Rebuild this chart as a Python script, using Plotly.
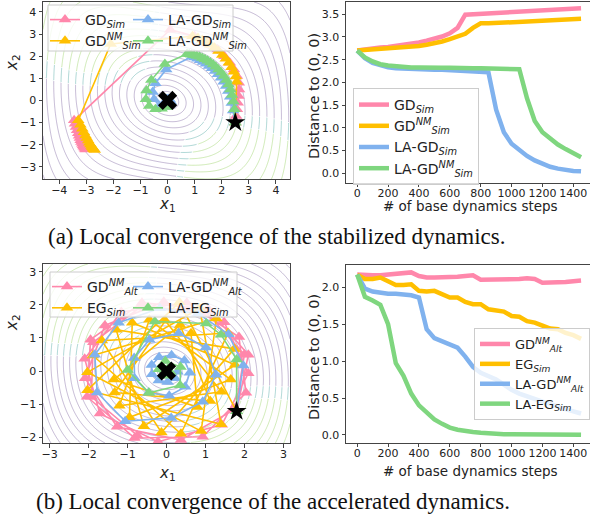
import numpy as np
import plotly.graph_objects as go

PINK = '#ff87ab'
ORANGE = '#ffbf00'
BLUE = '#80b2ee'
GREEN = '#7fd67f'

steps = [0, 50, 100, 150, 200, 250, 300, 350, 400, 450, 500, 550, 600, 650, 700,
         750, 800, 850, 900, 950, 1000, 1050, 1100, 1150, 1200, 1250, 1300, 1350, 1400, 1450]

# ---------------- (a) stabilized dynamics ----------------
names_a = ['GD<sub><i>Sim</i></sub>', 'GD<sup><i>NM</i></sup><sub><i>Sim</i></sub>',
           'LA-GD<sub><i>Sim</i></sub>', 'LA-GD<sup><i>NM</i></sup><sub><i>Sim</i></sub>']
start_a = [2.5, -1.0]

dist_a_gd = [2.70, 2.73, 2.75, 2.77, 2.78, 2.80, 2.82, 2.85, 2.88, 2.92, 2.96, 3.01, 3.08, 3.20, 3.49,
             3.50, 3.50, 3.51, 3.52, 3.53, 3.54, 3.55, 3.56, 3.57, 3.58, 3.59, 3.60, 3.61, 3.62, 3.63]
dist_a_gdnm = [2.70, 2.71, 2.72, 2.73, 2.74, 2.75, 2.76, 2.78, 2.80, 2.83, 2.86, 2.90, 2.95, 3.00, 3.07,
               3.20, 3.30, 3.30, 3.31, 3.31, 3.32, 3.32, 3.33, 3.34, 3.35, 3.36, 3.37, 3.38, 3.39, 3.40]
dist_a_lagd = [2.70, 2.53, 2.43, 2.37, 2.33, 2.31, 2.30, 2.29, 2.29, 2.28, 2.28, 2.28, 2.27, 2.27, 2.27,
               2.26, 2.25, 2.22, 1.40, 0.90, 0.65, 0.50, 0.38, 0.28, 0.20, 0.14, 0.10, 0.07, 0.05, 0.04]
dist_a_lagdnm = [2.70, 2.55, 2.46, 2.40, 2.37, 2.35, 2.34, 2.33, 2.33, 2.32, 2.32, 2.32, 2.32, 2.31, 2.31,
                 2.31, 2.31, 2.31, 2.30, 2.30, 2.30, 2.29, 1.65, 1.15, 0.90, 0.75, 0.63, 0.53, 0.44, 0.35]

traj_a_gd_x = [2.50, 2.53, 2.56, 2.59, 2.62, 2.64, 2.63, 2.56, 2.45, 2.30, 2.10, 1.85, 1.50, 1.00, 0.10,
               -3.45, -3.42, -3.38, -3.34, -3.30, -3.27, -3.24, -3.21, -3.18, -3.15, -3.12, -3.10, -3.07, -3.05, -3.02]
traj_a_gd_y = [-1.00, -0.70, -0.40, -0.10, 0.20, 0.50, 0.80, 1.10, 1.40, 1.70, 2.00, 2.30, 2.60, 2.90, 3.20,
               -0.90, -1.05, -1.20, -1.35, -1.48, -1.60, -1.70, -1.80, -1.88, -1.96, -2.03, -2.08, -2.13, -2.18, -2.22]
traj_a_gdnm_x = [2.50, 2.55, 2.52, 2.45, 2.36, 2.26, 2.15, 2.02, 1.88, 1.73, 1.58, 1.43, 1.28, 1.12, 0.92,
                 -2.10, -3.30, -3.22, -3.15, -3.09, -3.03, -2.98, -2.93, -2.89, -2.85, -2.81, -2.78, -2.75, -2.72, -2.69]
traj_a_gdnm_y = [-1.00, 0.85, 1.08, 1.30, 1.50, 1.70, 1.88, 2.06, 2.23, 2.38, 2.52, 2.63, 2.73, 2.82, 2.90,
                 2.55, -0.90, -1.10, -1.28, -1.44, -1.58, -1.70, -1.81, -1.91, -1.99, -2.06, -2.12, -2.17, -2.21, -2.24]
traj_a_lagd_x = [2.50, 2.42, 2.37, 2.31, 2.24, 2.16, 2.07, 1.97, 1.86, 1.75, 1.64, 1.53, 1.42, 1.31, 1.20,
                 1.10, 1.00, 0.90, -0.05, -0.45, -0.55, -0.50, -0.30, -0.10, 0.08, 0.12, 0.08, 0.02, -0.03, -0.03]
traj_a_lagd_y = [-1.00, -0.45, -0.12, 0.17, 0.43, 0.65, 0.85, 1.03, 1.19, 1.33, 1.45, 1.56, 1.66, 1.74, 1.82,
                 1.88, 1.94, 1.98, 1.40, 0.78, 0.38, 0.05, -0.25, -0.26, -0.18, -0.06, 0.04, 0.07, 0.05, 0.02]
traj_a_lagdnm_x = [2.50, 2.47, 2.43, 2.38, 2.32, 2.25, 2.17, 2.08, 1.98, 1.88, 1.78, 1.68, 1.58, 1.48, 1.38,
                   1.28, 1.18, 1.08, 0.98, 0.88, 0.80, 0.72, -0.10, -0.60, -0.78, -0.80, -0.68, -0.45, -0.22, -0.05]
traj_a_lagdnm_y = [-1.00, -0.40, -0.05, 0.25, 0.50, 0.72, 0.92, 1.10, 1.26, 1.40, 1.52, 1.62, 1.71, 1.79, 1.86,
                   1.92, 1.97, 2.01, 2.04, 2.07, 2.09, 2.11, 1.65, 0.92, 0.45, 0.05, -0.25, -0.40, -0.38, -0.30]

# ---------------- (b) accelerated dynamics ----------------
names_b = ['GD<sup><i>NM</i></sup><sub><i>Alt</i></sub>', 'EG<sub><i>Sim</i></sub>',
           'LA-GD<sup><i>NM</i></sup><sub><i>Alt</i></sub>', 'LA-EG<sub><i>Sim</i></sub>']
start_b = [1.8, -1.22]

dist_b_gdnm = [2.17, 2.16, 2.16, 2.16, 2.17, 2.18, 2.19, 2.20, 2.15, 2.13, 2.13, 2.13, 2.13, 2.14, 2.15,
               2.16, 2.10, 2.10, 2.10, 2.10, 2.10, 2.11, 2.12, 2.11, 2.06, 2.06, 2.06, 2.07, 2.08, 2.09]
dist_b_eg = [2.17, 2.11, 2.11, 2.13, 2.08, 2.03, 2.03, 2.04, 1.95, 1.94, 1.95, 1.90, 1.86, 1.86, 1.80,
             1.77, 1.77, 1.70, 1.69, 1.67, 1.61, 1.60, 1.54, 1.52, 1.48, 1.44, 1.43, 1.38, 1.35, 1.30]
dist_b_lagdnm = [2.17, 1.98, 1.94, 1.92, 1.91, 1.91, 1.90, 1.89, 1.86, 1.43, 1.31, 1.27, 1.23, 1.18, 1.06,
                 0.92, 0.84, 0.79, 0.75, 0.68, 0.61, 0.56, 0.52, 0.49, 0.45, 0.42, 0.38, 0.35, 0.32, 0.29]
dist_b_laeg = [2.17, 1.87, 1.82, 1.76, 1.50, 0.97, 0.80, 0.56, 0.40, 0.30, 0.21, 0.15, 0.10, 0.07, 0.05,
               0.04, 0.03, 0.02, 0.015, 0.01, 0.01, 0.008, 0.006, 0.005, 0.004, 0.003, 0.003, 0.002, 0.002, 0.001]

traj_b_gdnm_x = [1.80, 2.10, 1.08, -0.63, -1.95, -2.04, -0.82, 0.93, 2.04, 1.86, 0.52, -1.16, -2.10, -1.71, -0.22,
                 1.42, 2.10, 1.48, -0.07, -1.58, -2.09, -1.27, 0.37, 1.77, 2.00, 1.00, -0.64, -1.88, -1.93, -0.75]
traj_b_gdnm_y = [-1.22, 0.49, 1.87, 2.07, 0.95, -0.78, -2.03, -1.99, -0.66, 1.03, 2.07, 1.79, 0.37, -1.29, -2.14,
                 -1.63, -0.07, 1.48, 2.10, 1.38, -0.22, -1.69, -2.09, -1.15, 0.50, 1.80, 1.96, 0.87, -0.78, -1.95]
traj_b_eg_x = [1.80, 0.33, -2.03, 1.40, 0.85, -2.03, 0.89, 1.28, -1.89, 0.37, 1.58, -1.66, -0.13, 1.74, -1.29,
               -0.58, 1.76, -0.88, -0.95, 1.65, -0.44, -1.21, 1.41, -0.03, -1.33, 1.12, 0.35, -1.35, 0.79, 0.63]
traj_b_eg_y = [-1.22, 2.08, -0.58, -1.61, 1.90, -0.04, -1.82, 1.59, 0.47, -1.90, 1.15, 0.92, -1.86, 0.67, 1.25,
               -1.67, 0.19, 1.46, -1.40, -0.26, 1.55, -1.05, -0.63, 1.52, -0.65, -0.91, 1.39, -0.26, -1.09, 1.14]
traj_b_lagdnm_x = [1.80, 1.97, 1.59, 0.81, -0.17, -1.23, -1.84, -1.78, -1.06, 0.12, 0.93, 1.27, 1.01, 0.31, -0.44,
                   -0.83, -0.82, -0.46, 0.07, 0.48, 0.60, 0.46, 0.13, -0.19, -0.38, -0.37, -0.20, 0.03, 0.22, 0.28]
traj_b_lagdnm_y = [-1.22, 0.17, 1.11, 1.74, 1.90, 1.46, 0.49, -0.65, -1.52, -1.42, -0.93, -0.11, 0.71, 1.14, 0.95,
                   0.39, -0.22, -0.66, -0.75, -0.48, -0.05, 0.32, 0.48, 0.42, 0.18, -0.10, -0.29, -0.33, -0.22, -0.02]
traj_b_laeg_x = [1.80, 1.80, 1.40, 1.02, -0.30, -1.00, -0.45, 0.35, 0.36, -0.03, -0.20, -0.05, 0.10, 0.03, -0.045,
                 -0.01, 0.03, 0.005, -0.015, 0.0, 0.01, 0.0, -0.005, 0.0, 0.004, 0.0, -0.003, 0.0, 0.002, 0.0]
traj_b_laeg_y = [-1.22, 0.35, 1.10, 1.44, 1.50, 0.03, -0.66, -0.43, 0.12, 0.30, 0.05, -0.14, -0.03, 0.065, 0.02,
                 -0.04, -0.01, 0.02, 0.005, -0.01, 0.0, 0.006, 0.0, -0.004, 0.0, 0.003, 0.0, -0.002, 0.0, 0.001]

colors = [PINK, ORANGE, BLUE, GREEN]

W, H = 590, 525
def px(x):
    return x / W
def py(y):
    return 1 - y / H

fig = go.Figure()

# ---------------- background streamline-like field ----------------
def add_field(xr, yr, sx, sy, tilt, decay, xa, ya, step):
    gx = np.linspace(xr[0], xr[1], 220)
    gy = np.linspace(yr[0], yr[1], 200)
    X, Y = np.meshgrid(gx, gy)
    u, v = X / sx, Y / sy
    w = np.exp(-decay * u ** 2)
    F = np.sqrt(u ** 2 + (v ** 2 + tilt * u * v) * w)
    g = -u * v * w
    masks = [(g < 1.1, 'rgba(80,45,125,0.40)'),
             ((g >= 1.1) & (g < 2.0), 'rgba(35,145,140,0.45)'),
             (g >= 2.0, 'rgba(140,205,80,0.5)')]
    for m, c in masks:
        Z = np.where(m, F, np.nan)
        fig.add_trace(go.Contour(x=gx, y=gy, z=Z, xaxis=xa, yaxis=ya,
                                 contours=dict(coloring='lines', start=step * 0.5, end=10, size=step),
                                 colorscale=[[0, c], [1, c]], line=dict(width=0.8),
                                 showscale=False, hoverinfo='skip', showlegend=False,
                                 connectgaps=False))

add_field([-4.6, 4.52], [-3.55, 4.45], 1.0, 1.0, 0.35, 0.07, 'x', 'y', 0.27)
add_field([-3.17, 3.17], [-2.18, 3.24], 0.8, 0.8, 0.2, 0.05, 'x3', 'y3', 0.2)

# ---------------- trajectories (a) ----------------
traj_a = [(traj_a_gd_x, traj_a_gd_y), (traj_a_gdnm_x, traj_a_gdnm_y),
          (traj_a_lagd_x, traj_a_lagd_y), (traj_a_lagdnm_x, traj_a_lagdnm_y)]
for i, (tx, ty) in enumerate(traj_a):
    fig.add_trace(go.Scatter(x=tx, y=ty, mode='lines+markers', name=names_a[i],
                             line=dict(color=colors[i], width=1.6),
                             marker=dict(symbol='triangle-up', size=11, color=colors[i]),
                             xaxis='x', yaxis='y', legend='legend' if i < 2 else 'legend2'))
fig.add_trace(go.Scatter(x=[0], y=[0], mode='markers', marker=dict(symbol='x', size=17, color='black'),
                         xaxis='x', yaxis='y', showlegend=False))
fig.add_trace(go.Scatter(x=[start_a[0]], y=[start_a[1]], mode='markers',
                         marker=dict(symbol='star', size=15, color='black'),
                         xaxis='x', yaxis='y', showlegend=False))

# ---------------- distances (a) ----------------
dist_a = [dist_a_gd, dist_a_gdnm, dist_a_lagd, dist_a_lagdnm]
for i, d in enumerate(dist_a):
    fig.add_trace(go.Scatter(x=steps, y=d, mode='lines', name=names_a[i],
                             line=dict(color=colors[i], width=4.5),
                             xaxis='x2', yaxis='y2', legend='legend3'))

# ---------------- trajectories (b) ----------------
traj_b = [(traj_b_gdnm_x, traj_b_gdnm_y), (traj_b_eg_x, traj_b_eg_y),
          (traj_b_lagdnm_x, traj_b_lagdnm_y), (traj_b_laeg_x, traj_b_laeg_y)]
for i, (tx, ty) in enumerate(traj_b):
    fig.add_trace(go.Scatter(x=tx, y=ty, mode='lines+markers', name=names_b[i],
                             line=dict(color=colors[i], width=1.6),
                             marker=dict(symbol='triangle-up', size=11, color=colors[i]),
                             xaxis='x3', yaxis='y3', legend='legend4' if i < 2 else 'legend5'))
fig.add_trace(go.Scatter(x=[0], y=[0], mode='markers', marker=dict(symbol='x', size=17, color='black'),
                         xaxis='x3', yaxis='y3', showlegend=False))
fig.add_trace(go.Scatter(x=[start_b[0]], y=[start_b[1]], mode='markers',
                         marker=dict(symbol='star', size=15, color='black'),
                         xaxis='x3', yaxis='y3', showlegend=False))

# ---------------- distances (b) ----------------
dist_b = [dist_b_gdnm, dist_b_eg, dist_b_lagdnm, dist_b_laeg]
for i, d in enumerate(dist_b):
    fig.add_trace(go.Scatter(x=steps, y=d, mode='lines', name=names_b[i],
                             line=dict(color=colors[i], width=4.5),
                             xaxis='x4', yaxis='y4', legend='legend6'))

tickfont = dict(family='DejaVu Sans', size=11, color='#222')
ax_common = dict(showgrid=False, zeroline=False, showline=True, linecolor='#444', linewidth=1,
                 ticks='outside', ticklen=3.5, tickcolor='#444', tickfont=tickfont, tickangle=0,
                 automargin=False)
xax = dict(ticklabelstandoff=-3, **ax_common)

fig.update_layout(
    width=W, height=H, margin=dict(l=0, r=0, t=0, b=0, autoexpand=False),
    paper_bgcolor='white', plot_bgcolor='white',
    font=dict(family='DejaVu Sans', color='#222'),
    xaxis=dict(domain=[px(43), px(290)], range=[-4.6, 4.52], dtick=1, mirror=True, anchor='y', **xax),
    yaxis=dict(domain=[py(179), py(2)], range=[-3.55, 4.45], dtick=1, mirror=True, anchor='x', **ax_common),
    xaxis2=dict(domain=[px(346), 1.0], range=[-72.5, 1508], dtick=200, mirror=True, anchor='y2', **xax),
    yaxis2=dict(domain=[py(182.7), py(2)], range=[-0.21, 3.77], dtick=0.5, tickformat='.1f', anchor='x2', **ax_common),
    xaxis3=dict(domain=[px(43), px(290)], range=[-3.17, 3.17], dtick=1, mirror=True, anchor='y3', **xax),
    yaxis3=dict(domain=[py(443), py(264)], range=[-2.18, 3.24], dtick=1, mirror=True, anchor='x3', **ax_common),
    xaxis4=dict(domain=[px(346), 1.0], range=[-72.5, 1508], dtick=200, mirror=True, anchor='y4', **xax),
    yaxis4=dict(domain=[py(442.7), py(265)], range=[-0.105, 2.30], dtick=0.5, tickformat='.1f', anchor='x4', **ax_common),
)

legfont = dict(family='DejaVu Sans', size=14, color='#222')
legfont_s = dict(family='DejaVu Sans', size=13, color='#222')
clear = dict(bgcolor='rgba(0,0,0,0)', borderwidth=0, font=legfont, xanchor='left', yanchor='top',
             tracegroupgap=0, itemwidth=30)
boxed = dict(bgcolor='rgba(255,255,255,0.8)', bordercolor='#cccccc', borderwidth=1,
             xanchor='left', yanchor='top', tracegroupgap=0, itemwidth=30)
fig.update_layout(
    legend=dict(x=px(45), y=py(4), **clear),
    legend2=dict(x=px(128), y=py(4), **clear),
    legend3=dict(x=px(353), y=py(88), font=legfont, **boxed),
    legend4=dict(x=px(47), y=py(271), **clear),
    legend5=dict(x=px(128), y=py(271), **clear),
    legend6=dict(x=px(474), y=py(328), font=legfont_s, **boxed),
)

for (x0, y0, x1, y1) in [(48, 5, 233, 51), (50, 272, 237, 317)]:
    fig.add_shape(type='rect', xref='paper', yref='paper', x0=px(x0), x1=px(x1), y0=py(y1), y1=py(y0),
                  line=dict(color='#cccccc', width=1), fillcolor='rgba(255,255,255,0.8)', layer='above')

lab = dict(family='DejaVu Sans', size=15, color='#222')
ann = []
def add_ann(x, y, text, angle=0, font=lab):
    ann.append(dict(x=px(x), y=py(y), xref='paper', yref='paper', text=text, showarrow=False,
                    textangle=angle, font=font, xanchor='center', yanchor='middle'))

add_ann(167, 205, '<i>x</i><sub>1</sub>')
add_ann(167, 473, '<i>x</i><sub>1</sub>')
add_ann(12, 63, '<i>x</i><sub>2</sub>', -90)
add_ann(12, 323, '<i>x</i><sub>2</sub>', -90)
add_ann(314, 96, 'Distance to (0, 0)', -90, dict(family='DejaVu Sans', size=14.5, color='#222'))
add_ann(314, 357, 'Distance to (0, 0)', -90, dict(family='DejaVu Sans', size=14.5, color='#222'))
add_ann(470, 206, '# of base dynamics steps', 0, dict(family='DejaVu Sans', size=13.5, color='#222'))
add_ann(470, 471, '# of base dynamics steps', 0, dict(family='DejaVu Sans', size=13.5, color='#222'))
cap = dict(family='Liberation Serif', size=23, color='#111')
add_ann(276, 236, '(a) Local convergence of the stabilized dynamics.', 0, cap)
add_ann(272.5, 501, '(b) Local convergence of the accelerated dynamics.', 0, cap)
fig.update_layout(annotations=ann)

fig.write_html('out.html', config={'displayModeBar': False},
               post_script="document.body.style.margin='0';document.body.style.overflow='hidden';")
